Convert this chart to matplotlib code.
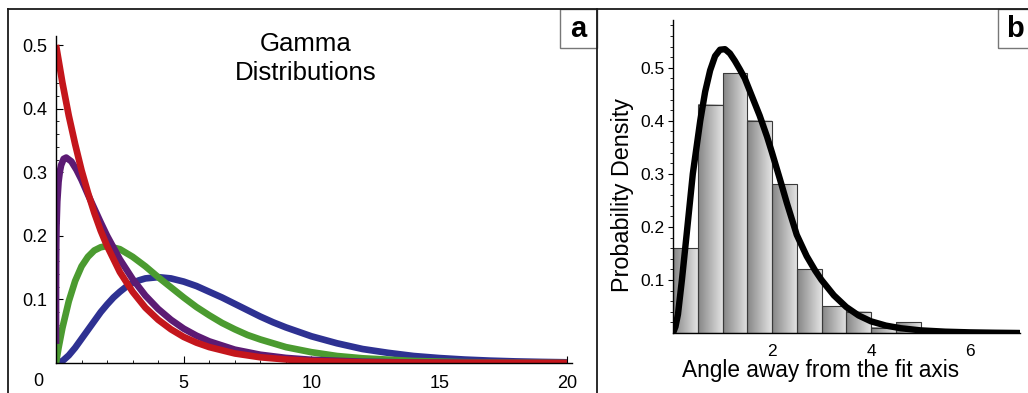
import matplotlib
matplotlib.use("Agg")
import matplotlib.pyplot as plt
import numpy as np
from matplotlib.lines import Line2D
from matplotlib.patches import Rectangle
from matplotlib.colors import LinearSegmentedColormap

plt.rcParams['font.family'] = ['Liberation Sans', 'DejaVu Sans']

# panel a: gamma curves
x_red = [0, 0.25, 0.5, 0.75, 1, 1.25, 1.5, 1.75, 2, 2.5, 3, 3.5, 4, 4.5, 5,
         5.5, 6, 7, 8, 9, 10, 11, 12, 14, 16, 18, 20]
y_red = [0.5, 0.441, 0.389, 0.344, 0.303, 0.268, 0.236, 0.208, 0.184, 0.143,
         0.112, 0.087, 0.068, 0.053, 0.041, 0.032, 0.025, 0.015, 0.009, 0.0056,
         0.003, 0.002, 0.001, 0.0005, 0.0002, 0.0001, 0.0]

x_purple = [0, 0.001, 0.005, 0.01, 0.02, 0.05, 0.1, 0.15, 0.2, 0.3, 0.4, 0.6,
            0.8, 1, 1.25, 1.5, 1.75, 2, 2.5, 3, 3.5, 4, 4.5, 5, 5.5, 6, 7, 8,
            9, 10, 12, 14, 16, 20]
y_purple = [0.03, 0.119, 0.164, 0.188, 0.215, 0.254, 0.285, 0.301, 0.311,
            0.321, 0.323, 0.317, 0.304, 0.288, 0.265, 0.243, 0.221, 0.200,
            0.163, 0.132, 0.106, 0.085, 0.068, 0.054, 0.043, 0.034, 0.021,
            0.013, 0.008, 0.005, 0.002, 0.0007, 0.0003, 0.0]

x_green = [0, 0.1, 0.25, 0.5, 0.75, 1, 1.25, 1.5, 1.75, 2, 2.5, 3, 3.5, 4, 4.5,
           5, 5.5, 6, 6.5, 7, 7.5, 8, 9, 10, 11, 12, 14, 16, 18, 20]
y_green = [0, 0.024, 0.055, 0.097, 0.129, 0.152, 0.167, 0.177, 0.182, 0.184,
           0.179, 0.167, 0.152, 0.135, 0.119, 0.103, 0.088, 0.075, 0.063,
           0.053, 0.044, 0.037, 0.025, 0.017, 0.011, 0.0074, 0.0032, 0.0013,
           0.0006, 0.0002]

x_blue = [0, 0.25, 0.5, 0.75, 1, 1.25, 1.5, 1.75, 2, 2.25, 2.5, 2.75, 3, 3.25,
          3.5, 4, 4.5, 5, 5.5, 6, 6.5, 7, 7.5, 8, 8.5, 9, 9.5, 10, 11, 12, 13,
          14, 15, 16, 17, 18, 19, 20]
y_blue = [0, 0.003, 0.012, 0.024, 0.038, 0.052, 0.066, 0.080, 0.092, 0.103,
          0.112, 0.120, 0.126, 0.130, 0.133, 0.135, 0.133, 0.128, 0.121,
          0.112, 0.103, 0.093, 0.083, 0.073, 0.064, 0.056, 0.049, 0.042,
          0.031, 0.022, 0.016, 0.011, 0.0078, 0.0054, 0.0037, 0.0025,
          0.0017, 0.0011]

# panel b: histogram and fitted curve
bin_edges = [0, 0.5, 1.0, 1.5, 2.0, 2.5, 3.0, 3.5, 4.0, 4.5, 5.0, 5.5, 6.0, 6.5]
bin_heights = [0.16, 0.43, 0.49, 0.40, 0.28, 0.12, 0.05, 0.04, 0.01, 0.02,
               0.006, 0.003, 0.002]

x_fit = [0, 0.05, 0.1, 0.18, 0.28, 0.4, 0.55, 0.65, 0.75, 0.85, 0.95, 1.05,
         1.15, 1.25, 1.35, 1.45, 1.6, 1.75, 1.9, 2.0, 2.16, 2.3, 2.5, 2.7,
         2.87, 3.0, 3.25, 3.5, 3.75, 4.0, 4.3, 4.6, 5.0, 5.5, 6.0, 6.5, 7.0]
y_fit = [0, 0.012, 0.035, 0.10, 0.19, 0.30, 0.40, 0.455, 0.495, 0.522, 0.534,
         0.535, 0.527, 0.513, 0.497, 0.48, 0.445, 0.41, 0.37, 0.34, 0.29, 0.245,
         0.185, 0.145, 0.118, 0.100, 0.071, 0.049, 0.033, 0.022, 0.014, 0.009,
         0.005, 0.0025, 0.0012, 0.0005, 0.0]

W, H = 1028, 393
fig = plt.figure(figsize=(W / 100, H / 100), dpi=100)


def fx(x):
    return x / W


def fy(y):
    return 1 - y / H


# ---- panel a
ax = fig.add_axes([fx(56), fy(363), (572 - 56) / W, (363 - 35.5) / H])
lw = 4.8
kw = dict(lw=lw, solid_capstyle='butt', solid_joinstyle='round')
ax.plot(x_blue, y_blue, color='#2e3192', **kw)
ax.plot(x_green, y_green, color='#4b9b30', **kw)
ax.plot(x_purple, y_purple, color='#5c1b74', **kw)
ax.plot(x_red, y_red, color='#c4161c', **kw)
ax.set_xlim(0, 20.2)
ax.set_ylim(0, 0.515)
for s in ['top', 'right']:
    ax.spines[s].set_visible(False)
for s in ['left', 'bottom']:
    ax.spines[s].set_linewidth(1.0)
ax.set_xticks([5, 10, 15, 20])
ax.set_xticks(np.arange(1, 21), minor=True)
ax.set_yticks([0.1, 0.2, 0.3, 0.4, 0.5])
ax.set_yticklabels(['0.1', '0.2', '0.3', '0.4', '0.5'])
ax.set_yticks(np.arange(0.02, 0.52, 0.02), minor=True)
ax.tick_params(direction='in', length=5, width=0.8, labelsize=13, pad=6)
ax.tick_params(which='minor', direction='in', length=2.5, width=0.6)
ax.tick_params(axis='x', pad=9)
ax.annotate('0', xy=(0, 0), xytext=(-18, -18), textcoords='offset pixels',
            ha='center', va='center', fontsize=13)
ax.text(0.483, 0.93, 'Gamma\nDistributions', transform=ax.transAxes,
        ha='center', va='center', fontsize=18.5, linespacing=1.28)

# ---- panel b
bx = fig.add_axes([fx(673), fy(333), (1019.5 - 673) / W, (333 - 20) / H])
cmap = LinearSegmentedColormap.from_list('bar', ['#868686', '#e2e2e2'])
grad = np.linspace(0, 1, 64).reshape(1, -1)
for i, h in enumerate(bin_heights):
    x0, x1 = bin_edges[i], bin_edges[i + 1]
    bx.imshow(grad, extent=(x0, x1, 0, h), cmap=cmap, aspect='auto',
              interpolation='bilinear', zorder=1)
    bx.add_patch(Rectangle((x0, 0), x1 - x0, h, fill=False,
                           edgecolor='#3a3a3a', lw=0.8, zorder=1.5))
bx.plot(x_fit, y_fit, color='black', lw=4.6, zorder=3,
        solid_capstyle='round', solid_joinstyle='round')
bx.set_xlim(0, 7.0)
bx.set_ylim(0, 0.59)
for s in ['top', 'right']:
    bx.spines[s].set_visible(False)
for s in ['left', 'bottom']:
    bx.spines[s].set_linewidth(1.0)
    bx.spines[s].set_zorder(4)
bx.set_xticks([2, 4, 6])
bx.set_yticks([0.1, 0.2, 0.3, 0.4, 0.5])
bx.set_yticklabels(['0.1', '0.2', '0.3', '0.4', '0.5'])
bx.set_yticks(np.arange(0.02, 0.59, 0.02), minor=True)
bx.tick_params(direction='out', length=3.5, width=0.8, labelsize=12.5, pad=2.5)
bx.tick_params(which='minor', direction='out', length=2, width=0.6)
bx.tick_params(axis='x', length=0, pad=8)

fig.text(fx(622), fy(195), 'Probability Density', rotation=90,
         ha='center', va='center', fontsize=16.8)
fig.text(fx(821), fy(371), 'Angle away from the fit axis',
         ha='center', va='center', fontsize=16.3)

# ---- frames and panel letters
fc = '#1a1a1a'
for (xa, ya, xb, yb) in [(8, 9, W, 9), (8, 9, 8, H), (597, 9, 597, H)]:
    fig.add_artist(Line2D([fx(xa), fx(xb)], [fy(ya), fy(yb)], color=fc, lw=1.3))
for (x0, x1) in [(560, 597), (998, W + 5)]:
    fig.add_artist(Rectangle((fx(x0), fy(48)), (x1 - x0) / W, 39 / H,
                             transform=fig.transFigure, fill=False,
                             edgecolor='#777777', lw=1.0))
fig.text(fx(578), fy(29), 'a', ha='center', va='center', fontsize=21,
         fontweight='bold')
fig.text(fx(1015), fy(29), 'b', ha='center', va='center', fontsize=21,
         fontweight='bold')

fig.savefig('out.png', dpi=100)
